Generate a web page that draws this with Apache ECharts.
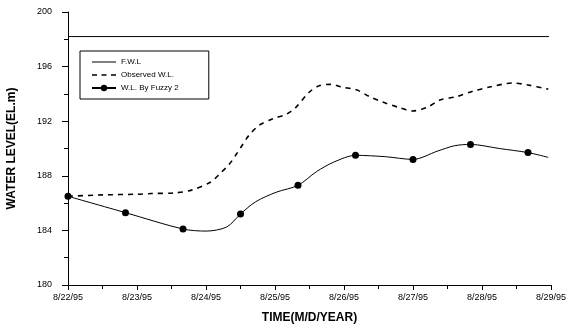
<!DOCTYPE html>
<html>
<head>
<meta charset="utf-8">
<script src="https://cdn.jsdelivr.net/npm/echarts@6/dist/echarts.min.js"></script>
<style>
  html, body { margin: 0; padding: 0; background: #fff; }
  #chart { width: 567px; height: 325px; }
</style>
</head>
<body>
<div id="chart"></div>
<script>
// x values are days after 8/22/95
var dayLabels = ['8/22/95', '8/23/95', '8/24/95', '8/25/95', '8/26/95', '8/27/95', '8/28/95', '8/29/95'];

var fwlDays = [0, 6.97];
var fwlLevel = [198.2, 198.2];

var observedDays = [0, 0.5, 1.0, 1.21, 1.55, 1.79, 2.07, 2.21, 2.33, 2.43, 2.52, 2.62, 2.77, 2.98, 3.16, 3.30, 3.49, 3.64, 3.81, 3.97, 4.18, 4.37, 4.56, 4.80, 4.99, 5.20, 5.39, 5.63, 5.87, 6.11, 6.45, 6.67, 6.96];
var observedLevel = [186.5, 186.6, 186.65, 186.7, 186.75, 186.95, 187.55, 188.2, 188.8, 189.5, 190.2, 190.95, 191.7, 192.2, 192.5, 193.0, 194.1, 194.6, 194.7, 194.5, 194.3, 193.8, 193.4, 193.0, 192.75, 193.0, 193.55, 193.8, 194.2, 194.5, 194.8, 194.65, 194.35];

// fuzzy model output: marked points every 20 hours, plus the curve in between
var fuzzyDays = [0, 0.833, 1.667, 2.0, 2.3, 2.5, 2.72, 3.02, 3.333, 3.6, 3.85, 4.167, 4.6, 5.0, 5.35, 5.6, 5.833, 6.25, 6.667, 6.96];
var fuzzyLevel = [186.5, 185.3, 184.1, 183.95, 184.25, 185.2, 186.1, 186.8, 187.3, 188.3, 189.0, 189.5, 189.4, 189.2, 189.8, 190.2, 190.3, 190.0, 189.7, 189.35];
var fuzzyMarked = [true, true, true, false, false, true, false, false, true, false, false, true, false, true, false, false, true, false, true, false];

var chart = echarts.init(document.getElementById('chart'));

function pairs(xs, ys) {
  return xs.map(function (x, i) { return [x, ys[i]]; });
}

var fuzzyData = fuzzyDays.map(function (x, i) {
  return fuzzyMarked[i] ? [x, fuzzyLevel[i]] : { value: [x, fuzzyLevel[i]], symbol: 'none' };
});

// legend glyphs: tiny corner dots keep the box 24x8 so the bar is not stretched
var solidIcon = 'path://M0,0h0.01v0.01h-0.01z M0,7.99h0.01v0.01h-0.01z M0,3.5h24v1h-24z';
var dashIcon = 'path://M0,0h0.01v0.01h-0.01z M0,7.99h0.01v0.01h-0.01z M0,3.3h5v1.5h-5z M9.5,3.3h5v1.5h-5z M19,3.3h5v1.5h-5z';

var font = 'Liberation Sans, Arial, sans-serif';

chart.setOption({
  animation: false,
  backgroundColor: '#fff',
  textStyle: { fontFamily: font },
  grid: { left: 68, right: 16, top: 12, bottom: 40, outerBoundsMode: 'none', containLabel: false },
  legend: {
    left: 80,
    top: 51,
    orient: 'vertical',
    itemWidth: 24,
    itemHeight: 8,
    itemGap: 5,
    padding: [7, 30, 7, 11],
    borderColor: '#000',
    borderWidth: 1,
    textStyle: { fontSize: 8, color: '#000', fontFamily: font },
    data: [
      { name: 'F.W.L', icon: solidIcon },
      { name: 'Observed W.L.', icon: dashIcon },
      'W.L. By Fuzzy 2'
    ]
  },
  xAxis: {
    type: 'value',
    min: 0,
    max: 7,
    interval: 1,
    name: 'TIME(M/D/YEAR)',
    nameLocation: 'middle',
    nameGap: 27,
    nameTextStyle: { fontSize: 12, fontWeight: 'bold', color: '#000', fontFamily: font },
    axisLine: { lineStyle: { color: '#000', width: 1 } },
    axisTick: { length: 5, lineStyle: { color: '#000' } },
    minorTick: { show: true, splitNumber: 2, length: 4, lineStyle: { color: '#000' } },
    splitLine: { show: false },
    axisLabel: {
      fontSize: 9, color: '#000', margin: 8,
      formatter: function (v) { return dayLabels[Math.round(v)]; }
    }
  },
  yAxis: {
    type: 'value',
    min: 180,
    max: 200,
    interval: 4,
    name: 'WATER LEVEL(EL.m)',
    nameLocation: 'middle',
    nameRotate: 90,
    nameGap: 50,
    nameTextStyle: { fontSize: 12, fontWeight: 'bold', color: '#000', fontFamily: font },
    axisLine: { show: true, lineStyle: { color: '#000', width: 1 } },
    axisTick: { show: true, length: 6, lineStyle: { color: '#000' } },
    minorTick: { show: true, splitNumber: 2, length: 4, lineStyle: { color: '#000' } },
    splitLine: { show: false },
    axisLabel: { fontSize: 9, color: '#000', margin: 16 }
  },
  series: [
    {
      name: 'F.W.L',
      type: 'line',
      symbol: 'none',
      data: pairs(fwlDays, fwlLevel),
      lineStyle: { color: '#000', width: 1 },
      itemStyle: { color: '#000' }
    },
    {
      name: 'Observed W.L.',
      type: 'line',
      symbol: 'none',
      smooth: 0.3,
      data: pairs(observedDays, observedLevel),
      lineStyle: { color: '#000', width: 1.6, type: [5, 5] },
      itemStyle: { color: '#000' }
    },
    {
      name: 'W.L. By Fuzzy 2',
      type: 'line',
      symbol: 'circle',
      symbolSize: 7,
      smooth: 0.3,
      data: fuzzyData,
      lineStyle: { color: '#000', width: 1 },
      itemStyle: { color: '#000' }
    }
  ]
});
</script>
</body>
</html>
